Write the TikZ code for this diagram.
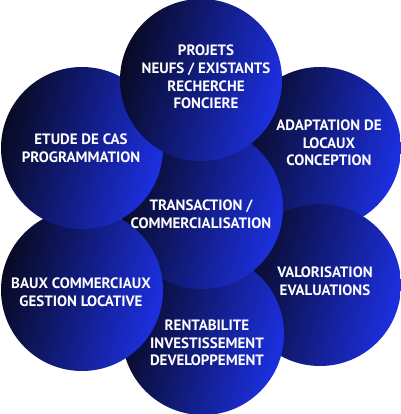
\documentclass[tikz,border=0pt]{standalone}
\usepackage{fontspec}
\setmainfont{PT Sans}
\definecolor{navydark}{RGB}{8,10,34}
\definecolor{navymid}{RGB}{18,30,140}
\definecolor{bluebright}{RGB}{28,48,226}
\tikzset{
  bubble/.style={circle, minimum size=162pt, inner sep=0pt,
    left color=navydark, middle color=navymid, right color=bluebright, shading angle=75},
  bubbletext/.style={text=white, align=center, inner sep=0pt,
    font=\bfseries\fontsize{15}{17.7}\selectfont}
}
\begin{document}
\begin{tikzpicture}[x=1pt, y=-1pt]
  \useasboundingbox (0,0) rectangle (400,414);
  \fill[white] (0,0) rectangle (400,414);
  % circles, back to front
  \node[bubble] (adapt)  at (320,148) {};
  \node[bubble] (valo)   at (320,285) {};
  \node[bubble] (renta)  at (203,334) {};
  \node[bubble] (trans)  at (202,208) {};
  \node[bubble] (baux)   at (82,290)  {};
  \node[bubble] (etude)  at (82,148)  {};
  \node[bubble] (projet) at (201,80)  {};
  % captions
  \node[bubbletext] (t-projet) at (206,77)  {PROJETS\\NEUFS / EXISTANTS\\RECHERCHE\\FONCIERE};
  \node[bubbletext] (t-adapt)  at (329,143) {ADAPTATION DE\\LOCAUX\\CONCEPTION};
  \node[bubbletext] (t-etude)  at (81,148)  {ETUDE DE CAS\\PROGRAMMATION};
  \node[bubbletext] (t-trans)  at (201,214.5) {TRANSACTION /\\COMMERCIALISATION};
  \node[bubbletext] (t-baux)   at (81,292)  {BAUX COMMERCIAUX\\GESTION LOCATIVE};
  \node[bubbletext] (t-valo)   at (325,281) {VALORISATION\\EVALUATIONS};
  \node[bubbletext] (t-renta)  at (207,343) {RENTABILITE\\INVESTISSEMENT\\DEVELOPPEMENT};
\end{tikzpicture}
\end{document}
